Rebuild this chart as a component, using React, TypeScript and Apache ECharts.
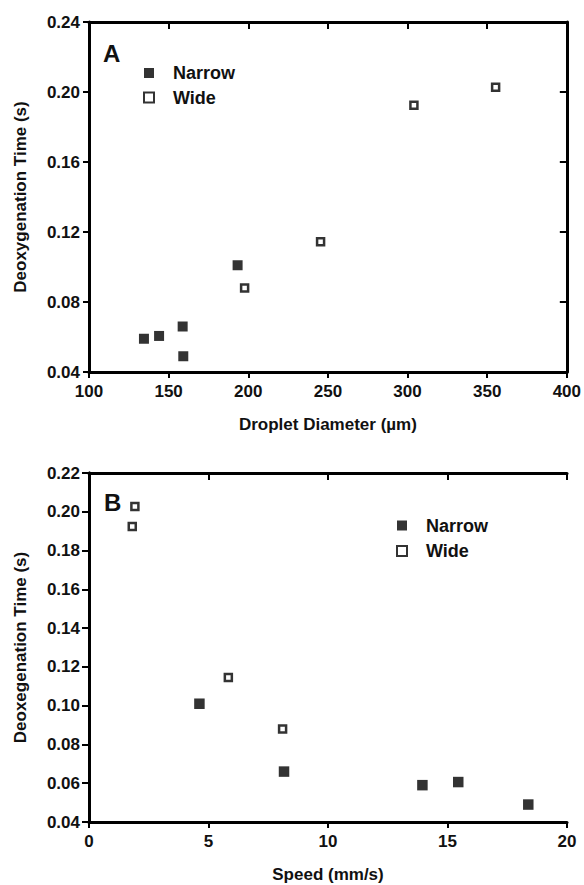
import React, { useEffect, useRef } from "react";
import * as echarts from "echarts";

// Panel A: droplet diameter (µm) vs deoxygenation time (s)
const diameterNarrow = [134.5, 144, 158.8, 159.2, 193.3];
const timeNarrow = [0.059, 0.0606, 0.066, 0.049, 0.101];
const diameterWide = [197.7, 245.4, 304, 355.3];
const timeWide = [0.088, 0.1145, 0.1924, 0.2027];

// Panel B: speed (mm/s) vs deoxygenation time (s)
const speedNarrow = [13.95, 15.45, 8.16, 18.38, 4.62];
const speedWide = [8.1, 5.83, 1.81, 1.92];

const xTicksA = { min: 100, max: 400, interval: 50 };
const yTicksA = { min: 0.04, max: 0.24, interval: 0.04 };
const xTicksB = { min: 0, max: 20, interval: 5 };
const yTicksB = { min: 0.04, max: 0.22, interval: 0.02 };

const seriesNames = ["Narrow", "Wide"];

const FONT = "'Liberation Sans', Arial, sans-serif";

export default function App() {
  const ref = useRef<HTMLDivElement>(null);

  useEffect(() => {
    if (!ref.current) return;
    const chart = echarts.init(ref.current, undefined, { renderer: "svg" });

    const axisLine = { show: true, lineStyle: { color: "#000", width: 3 } };
    const labelStyle = {
      color: "#111",
      fontFamily: FONT,
      fontWeight: "bold" as const,
      fontSize: 17,
    };
    const nameStyle = {
      color: "#111",
      fontFamily: FONT,
      fontWeight: "bold" as const,
      fontSize: 17,
    };

    const mainX = (gridIndex: number, t: any, name: string) => ({
      type: "value",
      gridIndex,
      position: "bottom",
      min: t.min,
      max: t.max,
      interval: t.interval,
      name,
      nameLocation: "middle",
      nameGap: 44,
      nameTextStyle: nameStyle,
      axisLine,
      axisTick: { show: true, inside: false, length: 6, lineStyle: { width: 2, color: "#000" } },
      axisLabel: { ...labelStyle, margin: 11 },
      splitLine: { show: false },
    });
    const mirrorX = (gridIndex: number, t: any) => ({
      type: "value",
      gridIndex,
      position: "top",
      min: t.min,
      max: t.max,
      interval: t.interval,
      axisLine,
      axisTick: { show: true, inside: true, length: 7, lineStyle: { width: 2, color: "#000" } },
      axisLabel: { show: false },
      splitLine: { show: false },
    });
    const mainY = (gridIndex: number, t: any, name: string) => ({
      type: "value",
      gridIndex,
      position: "left",
      min: t.min,
      max: t.max,
      interval: t.interval,
      name,
      nameLocation: "middle",
      nameGap: 60,
      nameTextStyle: nameStyle,
      axisLine,
      axisTick: { show: true, inside: false, length: 6, lineStyle: { width: 2, color: "#000" } },
      axisLabel: { ...labelStyle, margin: 9, formatter: (v: number) => v.toFixed(2) },
      splitLine: { show: false },
    });
    const mirrorY = (gridIndex: number, t: any) => ({
      type: "value",
      gridIndex,
      position: "right",
      min: t.min,
      max: t.max,
      interval: t.interval,
      axisLine,
      axisTick: { show: true, inside: true, length: 7, lineStyle: { width: 2, color: "#000" } },
      axisLabel: { show: false },
      splitLine: { show: false },
    });

    const filled = { color: "#000" };
    const hollow = { color: "#fff", borderColor: "#000", borderWidth: 2.5 };

    const zip = (a: number[], b: number[]) => a.map((v, i) => [v, b[i]]);

    const legendCommon = {
      orient: "vertical",
      itemWidth: 10,
      itemHeight: 10,
      padding: 0,
      selectedMode: false,
      data: seriesNames,
      textStyle: {
        color: "#111",
        fontFamily: FONT,
        fontWeight: "bold",
        fontSize: 18,
        lineHeight: 20,
        padding: [0, 0, 0, 14],
      },
    };

    chart.setOption({
      animation: false,
      backgroundColor: "#fff",
      grid: [
        { left: 89, top: 22, width: 478, height: 350 },
        { left: 89, top: 473, width: 478, height: 349 },
      ],
      xAxis: [
        mainX(0, xTicksA, "Droplet Diameter (µm)"),
        mirrorX(0, xTicksA),
        mainX(1, xTicksB, "Speed (mm/s)"),
        mirrorX(1, xTicksB),
      ],
      yAxis: [
        mainY(0, yTicksA, "Deoxygenation Time (s)"),
        mirrorY(0, yTicksA),
        mainY(1, yTicksB, "Deoxegenation Time (s)"),
        mirrorY(1, yTicksB),
      ],
      legend: [
        { ...legendCommon, left: 143, top: 63, itemGap: 4.5 },
        { ...legendCommon, left: 396, top: 515.5, itemGap: 5.5 },
      ],
      series: [
        {
          name: "Narrow",
          type: "scatter",
          xAxisIndex: 0,
          yAxisIndex: 0,
          symbol: "rect",
          symbolSize: 10,
          itemStyle: filled,
          data: zip(diameterNarrow, timeNarrow),
        },
        {
          name: "Wide",
          type: "scatter",
          xAxisIndex: 0,
          yAxisIndex: 0,
          symbol: "rect",
          symbolSize: 7,
          itemStyle: hollow,
          data: zip(diameterWide, timeWide),
        },
        {
          name: "Narrow",
          type: "scatter",
          xAxisIndex: 2,
          yAxisIndex: 2,
          symbol: "rect",
          symbolSize: 10.5,
          itemStyle: filled,
          data: zip(speedNarrow, timeNarrow),
        },
        {
          name: "Wide",
          type: "scatter",
          xAxisIndex: 2,
          yAxisIndex: 2,
          symbol: "rect",
          symbolSize: 7,
          itemStyle: hollow,
          data: zip(speedWide, timeWide),
        },
      ],
      graphic: [
        {
          type: "text",
          x: 103,
          y: 53.5,
          style: {
            text: "A",
            fontFamily: FONT,
            fontWeight: "bold",
            fontSize: 24,
            fill: "#111",
            verticalAlign: "middle",
          },
        },
        {
          type: "text",
          x: 104,
          y: 502,
          style: {
            text: "B",
            fontFamily: FONT,
            fontWeight: "bold",
            fontSize: 24,
            fill: "#111",
            verticalAlign: "middle",
          },
        },
      ],
    });

    return () => chart.dispose();
  }, []);

  return (
    <div
      ref={ref}
      style={{ position: "fixed", left: 0, top: 0, width: 584, height: 885, background: "#fff" }}
    />
  );
}
